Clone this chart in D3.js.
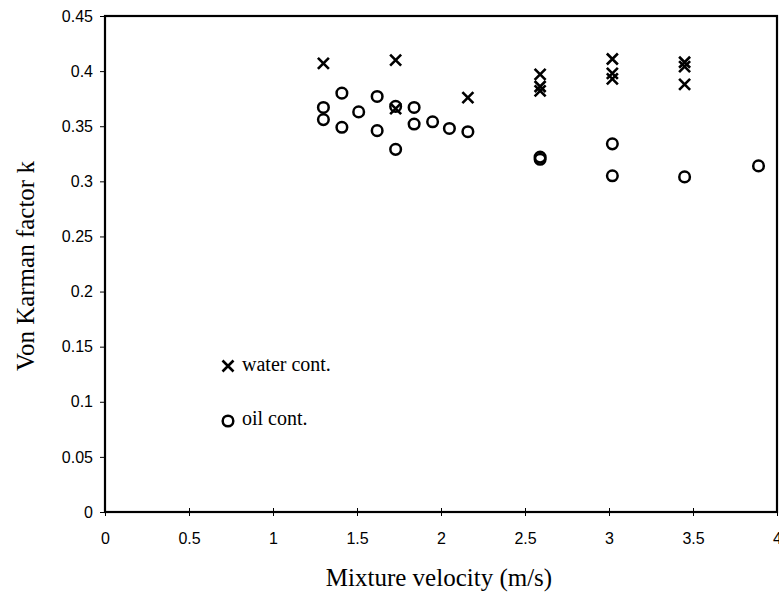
<!DOCTYPE html>
<html><head><meta charset="utf-8">
<script src="https://cdn.jsdelivr.net/npm/d3@7"></script>
<style>body{margin:0;background:#fff}</style>
</head><body>
<svg id="c" width="779" height="595"></svg>
<script>
const waterX = [1.30, 1.73, 1.73, 2.16, 2.59, 2.59, 2.59, 3.02, 3.02, 3.02, 3.45, 3.45, 3.45];
const waterK = [0.407, 0.410, 0.366, 0.376, 0.397, 0.386, 0.382, 0.411, 0.398, 0.393, 0.408, 0.404, 0.388];
const oilX = [1.30, 1.30, 1.41, 1.41, 1.51, 1.62, 1.62, 1.73, 1.73, 1.84, 1.84, 1.95, 2.05, 2.16, 2.59, 2.59, 3.02, 3.02, 3.45, 3.89];
const oilK = [0.367, 0.356, 0.380, 0.349, 0.363, 0.377, 0.346, 0.368, 0.329, 0.367, 0.352, 0.354, 0.348, 0.345, 0.322, 0.320, 0.334, 0.305, 0.304, 0.314];
const xTicks = [0, 0.5, 1, 1.5, 2, 2.5, 3, 3.5, 4];
const yTicks = [0, 0.05, 0.1, 0.15, 0.2, 0.25, 0.3, 0.35, 0.4, 0.45];
const seriesNames = ["water cont.", "oil cont."];

const svg = d3.select("#c");
const L = 105, R = 777, T = 16, B = 512;
const x = d3.scaleLinear().domain([0, 4]).range([L, R]);
const y = d3.scaleLinear().domain([0, 0.45]).range([B, T]);
const sans = "Liberation Sans, Arial, sans-serif";
const serif = "Liberation Serif, Times New Roman, serif";

// frame
svg.append("rect").attr("x", L).attr("y", T).attr("width", R - L).attr("height", B - T)
  .attr("fill", "none").attr("stroke", "#000").attr("stroke-width", 2.2);

const fmt = d => String(+d.toFixed(2));
// y axis
const ya = svg.append("g").attr("transform", `translate(${L},0)`)
  .call(d3.axisLeft(y).tickValues(yTicks).tickFormat(fmt).tickSize(5).tickPadding(7));
ya.select(".domain").remove();
ya.selectAll("line").attr("stroke", "#000");
ya.selectAll("text").attr("font-family", sans).attr("font-size", 16).attr("fill", "#000");

// x axis
const xa = svg.append("g").attr("transform", `translate(0,${B})`)
  .call(d3.axisBottom(x).tickValues(xTicks).tickFormat(fmt).tickSize(4).tickPadding(17));
xa.select(".domain").remove();
xa.selectAll("line").attr("stroke", "#000").attr("y1", -4);
xa.selectAll("text").attr("font-family", sans).attr("font-size", 16).attr("fill", "#000");

// titles
svg.append("text").attr("x", 439).attr("y", 586).attr("text-anchor", "middle")
  .attr("font-family", serif).attr("font-size", 25)
  .text("Mixture velocity (m/s)");
svg.append("text").attr("transform", "translate(34,266) rotate(-90)").attr("text-anchor", "middle")
  .attr("font-family", serif).attr("font-size", 25)
  .text("Von Karman factor k");

function crossPath(h) {
  const p = d3.path();
  p.moveTo(-h, -h); p.lineTo(h, h);
  p.moveTo(-h, h); p.lineTo(h, -h);
  return p.toString();
}
const cp = crossPath(5.5);

// oil circles
const oil = oilX.map((v, i) => [v, oilK[i]]);
svg.append("g").selectAll("circle").data(oil).join("circle")
  .attr("cx", d => x(d[0])).attr("cy", d => y(d[1])).attr("r", 5.3)
  .attr("fill", "none").attr("stroke", "#000").attr("stroke-width", 2.5);
// water crosses
const water = waterX.map((v, i) => [v, waterK[i]]);
svg.append("g").selectAll("path").data(water).join("path")
  .attr("d", cp).attr("transform", d => `translate(${x(d[0])},${y(d[1])})`)
  .attr("fill", "none").attr("stroke", "#000").attr("stroke-width", 2.6);

// legend
const lg = svg.append("g");
lg.append("path").attr("d", cp).attr("transform", "translate(228,366)")
  .attr("fill", "none").attr("stroke", "#000").attr("stroke-width", 2.6);
lg.append("circle").attr("cx", 228).attr("cy", 421).attr("r", 5.3).attr("fill", "none").attr("stroke", "#000").attr("stroke-width", 2.5);
lg.append("text").attr("x", 242).attr("y", 371).attr("font-family", serif).attr("font-size", 20).text(seriesNames[0]);
lg.append("text").attr("x", 242).attr("y", 425).attr("font-family", serif).attr("font-size", 20).text(seriesNames[1]);
</script>
</body></html>
